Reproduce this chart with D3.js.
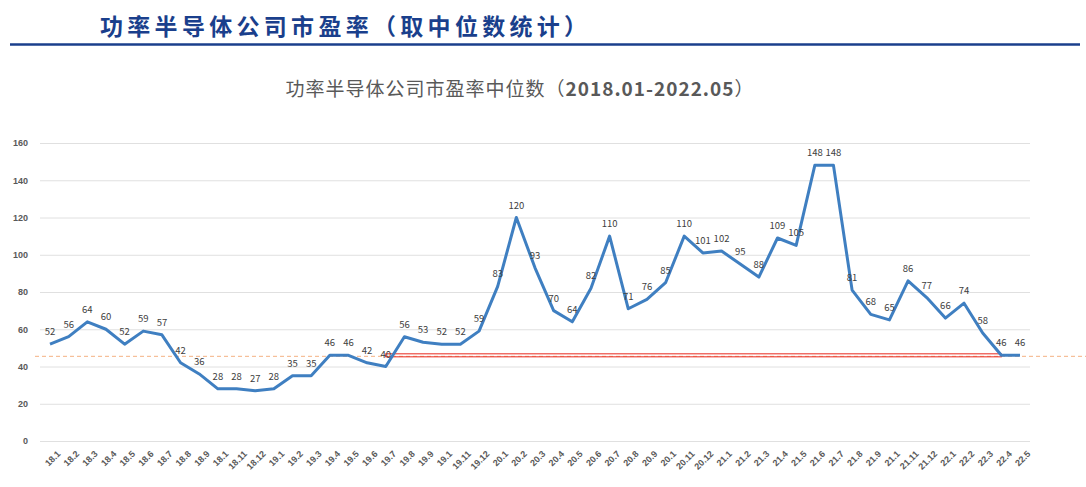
<!DOCTYPE html>
<meta charset="utf-8">
<style>
body{margin:0;background:#fff;font-family:"Noto Sans CJK SC","Noto Sans",sans-serif;}
.tick text{fill:#595959;font-size:9px;font-weight:bold;}
.lbl{fill:#404040;font-size:9.5px;text-anchor:middle;}
</style>
<body>
<div id="chart"></div>
<script src="https://d3js.org/d3.v7.min.js"></script>
<script>
var months = ["18.1","18.2","18.3","18.4","18.5","18.6","18.7","18.8","18.9","18.1","18.11","18.12",
  "19.1","19.2","19.3","19.4","19.5","19.6","19.7","19.8","19.9","19.1","19.11","19.12",
  "20.1","20.2","20.3","20.4","20.5","20.6","20.7","20.8","20.9","20.1","20.11","20.12",
  "21.1","21.2","21.3","21.4","21.5","21.6","21.7","21.8","21.9","21.1","21.11","21.12",
  "22.1","22.2","22.3","22.4","22.5"];
var pe = [52,56,64,60,52,59,57,42,36,28,28,27,
  28,35,35,46,46,42,40,56,53,52,52,59,
  83,120,93,70,64,82,110,71,76,85,110,101,
  102,95,88,109,105,148,148,81,68,65,86,77,
  66,74,58,46,46];
var yTicks = [0,20,40,60,80,100,120,140,160];
var refLevel = 46;

var svg = d3.select("#chart").append("svg").attr("width",1086).attr("height",487);

svg.append("text").attr("x",100).attr("y",35)
  .style("font-size","23px").style("font-weight","bold").style("fill","#1a3f8c")
  .style("letter-spacing","4.3px")
  .text("功率半导体公司市盈率（取中位数统计）");
svg.append("line").attr("x1",10).attr("x2",1080).attr("y1",44.5).attr("y2",44.5)
  .attr("stroke","#1a3f8c").attr("stroke-width",2.5);

svg.append("text").attr("x",520).attr("y",96).attr("text-anchor","middle")
  .style("font-size","19px").style("fill","#595959").style("letter-spacing","1px")
  .html('功率半导体公司市盈率中位数（<tspan font-weight="bold">2018.01-2022.05</tspan>）');

var x = d3.scalePoint().domain(d3.range(months.length)).range([50,1020]);
var y = d3.scaleLinear().domain([0,160]).range([441,143]);

var yAxis = svg.append("g").attr("transform","translate(40,0)")
  .call(d3.axisLeft(y).tickValues(yTicks).tickSize(-990).tickPadding(8));
yAxis.select(".domain").remove();
yAxis.selectAll("line").attr("stroke","#e0e0e0");
yAxis.selectAll(".tick text").attr("x",-12);

var xg = svg.append("g").attr("transform","translate(0,441)")
  .call(d3.axisBottom(x).tickFormat(function(i){return months[i];}).tickSize(0));
xg.select(".domain").remove();
xg.selectAll("text").attr("transform","rotate(-45)").attr("text-anchor","end")
  .attr("dx","-2").attr("dy","14");

// reference lines
svg.append("line").attr("x1",35).attr("x2",1086)
  .attr("y1",y(refLevel)+1).attr("y2",y(refLevel)+1)
  .attr("stroke","#f4b183").attr("stroke-dasharray","4,3").attr("stroke-width",1);
svg.append("rect").attr("x",x(18)).attr("width",x(51)-x(18))
  .attr("y",y(refLevel)-1.5).attr("height",3)
  .attr("fill","none").attr("stroke","#e8281e").attr("stroke-width",1);

svg.append("path").datum(pe)
  .attr("fill","none").attr("stroke","#3f7fc1").attr("stroke-width",3)
  .attr("stroke-linejoin","round")
  .attr("d",d3.line().x(function(d,i){return x(i);}).y(function(d){return y(d);}));

svg.selectAll(".lbl").data(pe).enter().append("text").attr("class","lbl")
  .attr("x",function(d,i){return x(i);})
  .attr("y",function(d){return y(d)-9;})
  .text(function(d){return d;});
</script>
</body>
